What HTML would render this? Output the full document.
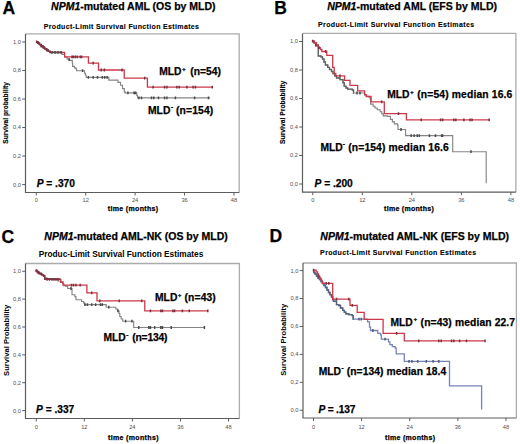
<!DOCTYPE html>
<html><head><meta charset="utf-8">
<style>
html,body{margin:0;padding:0;background:#fff;}
body{width:520px;height:444px;overflow:hidden;}
svg{display:block;font-family:"Liberation Sans",sans-serif;}
.tl{font-size:5.7px;fill:#505050;}
.tx{fill:#000;stroke:#000;stroke-width:0.25px;}
</style></head><body>
<svg width="520" height="444" viewBox="0 0 520 444">
<rect width="520" height="444" fill="#fff"/>
<path d="M25.5 33.9H239.2V192.5" stroke="#ababab" stroke-width="1.3" fill="none"/>
<path d="M25.5 33.9V192.5H239.2" stroke="#5c5c5c" stroke-width="1.2" fill="none"/>
<text x="20.90" y="186.50" class="tl" text-anchor="end">0,0</text>
<text x="20.90" y="157.98" class="tl" text-anchor="end">0,2</text>
<text x="20.90" y="129.46" class="tl" text-anchor="end">0,4</text>
<text x="20.90" y="100.94" class="tl" text-anchor="end">0,6</text>
<text x="20.90" y="72.42" class="tl" text-anchor="end">0,8</text>
<text x="20.90" y="43.90" class="tl" text-anchor="end">1,0</text>
<text x="36.25" y="202.20" class="tl" text-anchor="middle">0</text>
<text x="85.69" y="202.20" class="tl" text-anchor="middle">12</text>
<text x="135.13" y="202.20" class="tl" text-anchor="middle">24</text>
<text x="184.57" y="202.20" class="tl" text-anchor="middle">36</text>
<text x="234.01" y="202.20" class="tl" text-anchor="middle">48</text>
<path d="M22.20 184.60H25.5M22.20 156.08H25.5M22.20 127.56H25.5M22.20 99.04H25.5M22.20 70.52H25.5M22.20 42.00H25.5M36.25 192.5V195.5M85.69 192.5V195.5M135.13 192.5V195.5M184.57 192.5V195.5M234.01 192.5V195.5" stroke="#5c5c5c" stroke-width="1" fill="none"/>
<path d="M302.5 33.4H515.9V192.2" stroke="#ababab" stroke-width="1.3" fill="none"/>
<path d="M302.5 33.4V192.2H515.9" stroke="#5c5c5c" stroke-width="1.2" fill="none"/>
<text x="297.90" y="185.90" class="tl" text-anchor="end">0,0</text>
<text x="297.90" y="157.40" class="tl" text-anchor="end">0,2</text>
<text x="297.90" y="128.90" class="tl" text-anchor="end">0,4</text>
<text x="297.90" y="100.40" class="tl" text-anchor="end">0,6</text>
<text x="297.90" y="71.90" class="tl" text-anchor="end">0,8</text>
<text x="297.90" y="43.40" class="tl" text-anchor="end">1,0</text>
<text x="312.75" y="201.60" class="tl" text-anchor="middle">0</text>
<text x="362.29" y="201.60" class="tl" text-anchor="middle">12</text>
<text x="411.82" y="201.60" class="tl" text-anchor="middle">24</text>
<text x="461.36" y="201.60" class="tl" text-anchor="middle">36</text>
<text x="510.89" y="201.60" class="tl" text-anchor="middle">48</text>
<path d="M299.20 184.00H302.5M299.20 155.50H302.5M299.20 127.00H302.5M299.20 98.50H302.5M299.20 70.00H302.5M299.20 41.50H302.5M312.75 192.2V195.2M362.29 192.2V195.2M411.82 192.2V195.2M461.36 192.2V195.2M510.89 192.2V195.2" stroke="#5c5c5c" stroke-width="1" fill="none"/>
<path d="M25.5 263.5H239.4V418.5" stroke="#ababab" stroke-width="1.3" fill="none"/>
<path d="M25.5 263.5V418.5H239.4" stroke="#5c5c5c" stroke-width="1.2" fill="none"/>
<text x="20.90" y="412.50" class="tl" text-anchor="end">0,0</text>
<text x="20.90" y="384.63" class="tl" text-anchor="end">0,2</text>
<text x="20.90" y="356.76" class="tl" text-anchor="end">0,4</text>
<text x="20.90" y="328.89" class="tl" text-anchor="end">0,6</text>
<text x="20.90" y="301.02" class="tl" text-anchor="end">0,8</text>
<text x="20.90" y="273.15" class="tl" text-anchor="end">1,0</text>
<text x="36.25" y="429.40" class="tl" text-anchor="middle">0</text>
<text x="84.31" y="429.40" class="tl" text-anchor="middle">12</text>
<text x="132.37" y="429.40" class="tl" text-anchor="middle">24</text>
<text x="180.43" y="429.40" class="tl" text-anchor="middle">36</text>
<text x="228.49" y="429.40" class="tl" text-anchor="middle">48</text>
<path d="M22.20 410.60H25.5M22.20 382.73H25.5M22.20 354.86H25.5M22.20 326.99H25.5M22.20 299.12H25.5M22.20 271.25H25.5M36.25 418.5V421.5M84.31 418.5V421.5M132.37 418.5V421.5M180.43 418.5V421.5M228.49 418.5V421.5" stroke="#5c5c5c" stroke-width="1" fill="none"/>
<path d="M303.0 263.0H516.4V418.0" stroke="#ababab" stroke-width="1.3" fill="none"/>
<path d="M303.0 263.0V418.0H516.4" stroke="#5c5c5c" stroke-width="1.2" fill="none"/>
<text x="298.40" y="412.15" class="tl" text-anchor="end">0,0</text>
<text x="298.40" y="384.22" class="tl" text-anchor="end">0,2</text>
<text x="298.40" y="356.29" class="tl" text-anchor="end">0,4</text>
<text x="298.40" y="328.36" class="tl" text-anchor="end">0,6</text>
<text x="298.40" y="300.43" class="tl" text-anchor="end">0,8</text>
<text x="298.40" y="272.50" class="tl" text-anchor="end">1,0</text>
<text x="313.50" y="429.00" class="tl" text-anchor="middle">0</text>
<text x="361.62" y="429.00" class="tl" text-anchor="middle">12</text>
<text x="409.74" y="429.00" class="tl" text-anchor="middle">24</text>
<text x="457.86" y="429.00" class="tl" text-anchor="middle">36</text>
<text x="505.98" y="429.00" class="tl" text-anchor="middle">48</text>
<path d="M299.70 410.25H303.0M299.70 382.32H303.0M299.70 354.39H303.0M299.70 326.46H303.0M299.70 298.53H303.0M299.70 270.60H303.0M313.50 418.0V421.0M361.62 418.0V421.0M409.74 418.0V421.0M457.86 418.0V421.0M505.98 418.0V421.0" stroke="#5c5c5c" stroke-width="1" fill="none"/>
<path d="M36.20 41.80H37.80V43.20H39.50V44.60H41.20V46.00H43.00V47.50H44.70V48.80H46.50V50.00H48.30V51.30H50.00V52.40H62.00V54.30H64.60V57.00H67.00V58.80H69.50V60.30H72.30V63.00H72.60V66.30H74.50V67.80H76.00V69.00H76.60V70.70H84.50V73.20H85.40V75.00H86.20V77.40H108.80V80.10H118.00V82.30H120.50V85.20H122.50V88.60H124.30V91.60H125.00V92.80H136.80V95.50H137.50V97.90H210.00" stroke="#858585" stroke-width="1.15" fill="none"/>
<path d="M312.20 41.10H313.80V42.80H315.70V44.90H318.00V46.00H318.30V56.00H321.00V56.80H322.50V59.00H324.00V62.00H325.40V65.00H327.70V67.30H329.50V69.50H331.50V71.50H333.00V73.70H334.60V75.80H336.50V78.00H340.00V79.60H343.00V82.70H344.20V86.20H346.00V88.00H347.70V89.20H352.30V90.00H353.50V93.00H364.60V95.00H366.50V96.20H368.50V96.80H370.10V98.80H370.60V104.10H373.10V106.20H375.00V108.00H377.20V109.70H380.20V111.70H381.80V113.80H383.30V115.80H387.30V116.30H390.40V119.30H392.40V121.90H394.40V123.90H397.50V125.40H398.00V129.50H405.60V135.60H452.70V151.70H486.20V183.30H486.20" stroke="#858585" stroke-width="1.15" fill="none"/>
<path d="M35.80 270.60H37.40V272.50H39.30V273.70H41.60V274.80H43.50V276.00H44.70V277.90H47.00V278.80H52.00V279.50H58.20V281.00H60.50V282.30H62.80V283.70H63.80V285.60H65.80V286.40H67.70V288.50H72.00V294.70H74.90V296.60H75.90V299.70H81.60V301.50H83.60V302.90H84.50V304.60H106.20V307.20H115.80V309.00H117.50V310.80H119.00V313.50H119.80V316.50H121.20V319.00H122.70V321.20H133.70V327.50H204.40" stroke="#858585" stroke-width="1.15" fill="none"/>
<path d="M313.50 270.20H313.80V272.50H315.00V274.00H316.50V276.00H318.00V278.00H319.50V279.50H321.00V281.50H322.50V283.50H324.00V285.50H325.50V287.50H327.00V290.00H328.50V292.50H330.00V294.70H331.50V297.00H332.70V299.60H333.50V301.20H336.50V304.60H338.80V305.50H340.50V308.00H342.70V310.40H344.30V312.20H345.80V313.80H348.80V314.60H352.20V315.60H353.20V319.20H367.60V321.80H369.50V327.10H370.50V330.50H377.70V333.40H380.60V334.80H381.30V339.20H388.50V341.80H389.90V344.70H392.30V346.60H395.20V348.10H396.20V353.80H404.30V361.30H449.50V385.90H481.60V409.60H481.60" stroke="#7585b8" stroke-width="1.3" fill="none"/>
<path d="M313.50 270.20H313.80V272.50H315.00V274.00H316.50V276.00H318.00V278.00H319.50V279.50H321.00V281.50H322.50V283.50H324.00V285.50H325.50V287.50H327.00V290.00H328.50V292.50H330.00V294.70H331.50V297.00H332.70V299.60H333.50V301.20H336.50V304.60H338.80V305.50H340.50V308.00H342.70V310.40H344.30V312.20H345.80V313.80H348.80V314.60H352.20V315.60H353.20V319.20H353.50" stroke="#56627e" stroke-width="1.4" fill="none"/>
<path d="M312.20 41.10H313.80V42.80H315.70V44.90H318.00V46.00H318.30V56.00H321.00V56.80H322.50V59.00H324.00V62.00H325.40V65.00H327.70V67.30H329.50V69.50H331.50V71.50H333.00V73.70H334.60V75.80H336.50V78.00H340.00V79.60H343.00V82.70H344.20V86.20H346.00V88.00H347.70V89.20H352.30V90.00H353.50V93.00H354.00" stroke="#5e6565" stroke-width="1.3" fill="none"/>
<path d="M36.20 41.80H37.80V43.20H39.50V44.60H41.20V46.00H43.00V47.50H44.70V48.80H46.50V50.00H48.30V51.30H50.00V52.40H64.60V56.90H88.40V63.20H98.50V70.00H124.20V78.20H147.40V87.20H212.50" stroke="#cc3848" stroke-width="1.3" fill="none"/>
<path d="M312.20 41.10H314.50V43.00H316.50V45.30H318.40V47.60H320.30V49.50H321.80V51.50H326.80V55.30H332.70V67.30H334.20V73.50H335.80V75.80H344.60V80.40H350.00V85.40H357.70V90.80H364.60V94.60H366.20V96.50H371.10V101.90H384.30V113.60H406.40V119.90H489.20" stroke="#cc3848" stroke-width="1.3" fill="none"/>
<path d="M35.80 270.60H37.40V272.50H39.30V273.70H41.60V274.80H43.50V276.00H44.70V279.30H60.80V282.00H63.00V285.10H86.90V292.80H97.00V300.80H144.80V310.90H207.60" stroke="#cc3848" stroke-width="1.3" fill="none"/>
<path d="M313.50 270.20H316.20V271.80H317.50V274.00H318.50V276.00H319.70V278.00H320.80V279.50H321.60V281.20H322.30V283.30H332.70V299.20H350.00V305.40H357.20V312.30H364.20V319.40H383.10V333.30H404.30V340.90H485.00" stroke="#cc3848" stroke-width="1.3" fill="none"/>
<path d="M36.20 41.80H37.80V43.20H39.50V44.60H41.20V46.00H43.00V47.50H44.70V48.80H46.50V50.00H48.30V51.30H50.00V52.40H62.00" stroke="#7a3a4a" stroke-width="1.5" fill="none"/>
<path d="M35.80 270.60H37.40V272.50H39.30V273.70H41.60V274.80H43.50V276.00H44.70V279.00H60.50" stroke="#7a3a4a" stroke-width="1.5" fill="none"/>
<path d="M69.10 58.20V61.00M82.60 69.30V72.10M88.40 76.00V78.80M93.20 76.00V78.80M97.50 76.00V78.80M102.30 76.00V78.80M104.70 76.00V78.80M107.10 76.00V78.80M127.90 91.40V94.20M134.10 91.40V94.20M135.60 91.40V94.20M138.90 96.50V99.30M141.50 96.50V99.30M151.50 96.50V99.30M153.80 96.50V99.30M158.50 96.50V99.30M164.60 96.50V99.30M166.90 96.50V99.30M175.40 96.50V99.30M194.60 96.50V99.30M208.50 96.50V99.30M52.00 51.00V53.80M55.00 51.00V53.80M58.00 51.00V53.80M61.00 51.00V53.80" stroke="#4a4a4a" stroke-width="1.5" fill="none"/>
<path d="M36.60 40.40V43.20M38.50 41.80V44.60M41.20 44.60V47.40M44.00 46.10V48.90M47.00 48.60V51.40M72.00 55.50V58.30M73.50 55.50V58.30M75.40 55.50V58.30M77.30 55.50V58.30M80.20 55.50V58.30M81.60 55.50V58.30M93.20 61.80V64.60M101.30 68.60V71.40M104.40 68.60V71.40M122.00 68.60V71.40M144.70 76.80V79.60M153.10 85.80V88.60M164.60 85.80V88.60M166.90 85.80V88.60M176.90 85.80V88.60M179.20 85.80V88.60M186.90 85.80V88.60M193.10 85.80V88.60M195.40 85.80V88.60M212.30 85.80V88.60" stroke="#7a3040" stroke-width="1.5" fill="none"/>
<path d="M357.00 91.60V94.40M360.00 91.60V94.40M411.20 134.20V137.00M414.20 134.20V137.00M417.20 134.20V137.00M419.30 134.20V137.00M429.40 134.20V137.00M435.50 134.20V137.00M441.60 134.20V137.00M442.60 134.20V137.00M471.00 150.30V153.10M401.00 128.10V130.90" stroke="#4a4a4a" stroke-width="1.5" fill="none"/>
<path d="M312.60 39.70V42.50M316.00 43.90V46.70M319.00 46.20V49.00M325.70 50.10V52.90M340.00 74.40V77.20M381.70 100.50V103.30M398.50 112.20V115.00M421.30 118.50V121.30M440.60 118.50V121.30M442.60 118.50V121.30M453.80 118.50V121.30M455.80 118.50V121.30M463.90 118.50V121.30M470.00 118.50V121.30M472.00 118.50V121.30M489.20 118.50V121.30" stroke="#7a3040" stroke-width="1.5" fill="none"/>
<path d="M71.00 287.10V289.90M85.00 303.20V306.00M87.40 303.20V306.00M91.70 303.20V306.00M95.60 303.20V306.00M100.40 303.20V306.00M102.30 303.20V306.00M108.80 305.80V308.60M118.00 309.40V312.20M125.60 319.80V322.60M131.90 319.80V322.60M138.80 326.10V328.90M148.70 326.10V328.90M150.40 326.10V328.90M154.70 326.10V328.90M160.80 326.10V328.90M162.50 326.10V328.90M171.20 326.10V328.90M204.40 326.10V328.90" stroke="#4a4a4a" stroke-width="1.5" fill="none"/>
<path d="M36.20 269.20V272.00M38.50 271.10V273.90M41.00 272.30V275.10M47.00 277.90V280.70M49.50 277.90V280.70M52.00 277.90V280.70M54.00 277.90V280.70M56.00 277.90V280.70M58.00 277.90V280.70M71.50 283.70V286.50M73.50 283.70V286.50M75.90 283.70V286.50M80.20 283.70V286.50M91.70 291.40V294.20M99.80 299.40V302.20M119.20 299.40V302.20M141.70 299.40V302.20M150.40 309.50V312.30M160.80 309.50V312.30M162.50 309.50V312.30M172.90 309.50V312.30M174.60 309.50V312.30M182.40 309.50V312.30M189.30 309.50V312.30M207.80 309.50V312.30" stroke="#7a3040" stroke-width="1.5" fill="none"/>
<path d="M359.00 317.80V320.60M361.30 317.80V320.60M372.90 329.10V331.90M409.00 359.90V362.70M411.90 359.90V362.70M417.70 359.90V362.70M426.30 359.90V362.70M433.10 359.90V362.70M438.80 359.90V362.70M385.00 337.80V340.60" stroke="#505a78" stroke-width="1.5" fill="none"/>
<path d="M313.50 268.80V271.60M318.50 274.60V277.40M326.20 281.90V284.70M328.80 281.90V284.70M336.50 297.80V300.60M348.80 297.80V300.60M352.30 304.00V306.80M396.60 331.90V334.70M418.80 339.50V342.30M438.80 339.50V342.30M441.20 339.50V342.30M451.50 339.50V342.30M453.80 339.50V342.30M459.60 339.50V342.30M466.50 339.50V342.30M485.00 339.50V342.30" stroke="#7a3040" stroke-width="1.5" fill="none"/>
<text x="2.40" y="13.90" font-size="17.5" font-weight="bold" class="tx">A</text>
<text x="274.27" y="13.60" font-size="17.5" font-weight="bold" class="tx">B</text>
<text x="1.55" y="242.80" font-size="17.5" font-weight="bold" class="tx">C</text>
<text x="269.48" y="242.10" font-size="17.5" font-weight="bold" class="tx">D</text>
<text x="51.05" y="10.00" font-size="10.5" font-weight="bold" class="tx"><tspan font-style="italic">NPM1</tspan>-mutated AML (OS by MLD)</text>
<text x="327.25" y="9.80" font-size="10.5" font-weight="bold" class="tx"><tspan font-style="italic">NPM1</tspan>-mutated AML (EFS by MLD)</text>
<text x="44.35" y="239.70" font-size="10.5" font-weight="bold" class="tx"><tspan font-style="italic">NPM1</tspan>-mutated AML-NK (OS by MLD)</text>
<text x="320.35" y="240.30" font-size="10.5" font-weight="bold" class="tx"><tspan font-style="italic">NPM1</tspan>-mutated AML-NK (EFS by MLD)</text>
<text x="43.70" y="29.20" font-size="7.0" font-weight="bold" class="tx" textLength="155.33" lengthAdjust="spacing" style="stroke-width:0.1px">Product-Limit Survival Function Estimates</text>
<text x="318.00" y="26.80" font-size="7.0" font-weight="bold" class="tx" textLength="156.08" lengthAdjust="spacing" style="stroke-width:0.1px">Product-Limit Survival Function Estimates</text>
<text x="38.70" y="257.10" font-size="8.3" font-weight="bold" class="tx" style="stroke-width:0.0px">Produc-Limit Survival Function Estimates</text>
<text x="320.10" y="254.80" font-size="7.0" font-weight="bold" class="tx" textLength="156.03" lengthAdjust="spacing" style="stroke-width:0.1px">Product-Limit Survival Function Estimates</text>
<text x="107.78" y="211.40" font-size="7.0" font-weight="bold" class="tx" textLength="50.33" lengthAdjust="spacing">time (months)</text>
<text x="384.07" y="210.70" font-size="7.0" font-weight="bold" class="tx" textLength="49.73" lengthAdjust="spacing">time (months)</text>
<text x="107.97" y="440.30" font-size="7.0" font-weight="bold" class="tx" textLength="50.53" lengthAdjust="spacing">time (months)</text>
<text x="384.98" y="439.70" font-size="7.0" font-weight="bold" class="tx" textLength="50.03" lengthAdjust="spacing">time (months)</text>
<text x="36.65" y="187.10" font-size="10.2" font-weight="bold" class="tx"><tspan font-style="italic">P</tspan> = .370</text>
<text x="314.55" y="186.70" font-size="10.2" font-weight="bold" class="tx"><tspan font-style="italic">P</tspan> = .200</text>
<text x="36.05" y="412.70" font-size="10.2" font-weight="bold" class="tx"><tspan font-style="italic">P</tspan> = .337</text>
<text x="318.55" y="412.70" font-size="10.2" font-weight="bold" class="tx" textLength="36.75" lengthAdjust="spacing"><tspan font-style="italic">P</tspan> = .137</text>
<text x="159.25" y="74.80" font-size="10.3" font-weight="bold" class="tx">MLD</text>
<text x="190.30" y="74.80" font-size="10.3" font-weight="bold" class="tx">(n=54)</text>
<text x="182.25" y="70.70" font-size="5.6" font-weight="bold" class="tx" style="stroke-width:0.3px">+</text>
<text x="148.05" y="113.50" font-size="10.3" font-weight="bold" class="tx">MLD</text>
<text x="176.00" y="113.50" font-size="10.3" font-weight="bold" class="tx" textLength="37.27" lengthAdjust="spacing">(n=154)</text>
<text x="170.95" y="109.10" font-size="6.5" font-weight="bold" class="tx">-</text>
<text x="387.15" y="98.30" font-size="10.3" font-weight="bold" class="tx">MLD</text>
<text x="417.20" y="98.30" font-size="10.3" font-weight="bold" class="tx" textLength="95.14" lengthAdjust="spacing">(n=54) median 16.6</text>
<text x="410.15" y="94.20" font-size="5.6" font-weight="bold" class="tx" style="stroke-width:0.3px">+</text>
<text x="320.45" y="150.70" font-size="10.3" font-weight="bold" class="tx">MLD</text>
<text x="348.30" y="150.70" font-size="10.3" font-weight="bold" class="tx" textLength="100.41" lengthAdjust="spacing">(n=154) median 16.6</text>
<text x="342.75" y="146.30" font-size="6.5" font-weight="bold" class="tx">-</text>
<text x="155.05" y="300.90" font-size="10.3" font-weight="bold" class="tx">MLD</text>
<text x="184.50" y="300.90" font-size="10.3" font-weight="bold" class="tx" textLength="31.30" lengthAdjust="spacing">(n=43)</text>
<text x="178.05" y="296.80" font-size="5.6" font-weight="bold" class="tx" style="stroke-width:0.3px">+</text>
<text x="103.45" y="341.10" font-size="10.3" font-weight="bold" class="tx">MLD</text>
<text x="132.20" y="341.10" font-size="10.3" font-weight="bold" class="tx" textLength="35.27" lengthAdjust="spacing">(n=134)</text>
<text x="126.25" y="336.70" font-size="6.5" font-weight="bold" class="tx">-</text>
<text x="390.45" y="325.50" font-size="10.3" font-weight="bold" class="tx">MLD</text>
<text x="420.60" y="325.50" font-size="10.3" font-weight="bold" class="tx" textLength="94.44" lengthAdjust="spacing">(n=43) median 22.7</text>
<text x="413.75" y="321.40" font-size="5.6" font-weight="bold" class="tx" style="stroke-width:0.3px">+</text>
<text x="318.75" y="374.50" font-size="10.3" font-weight="bold" class="tx">MLD</text>
<text x="346.70" y="374.50" font-size="10.3" font-weight="bold" class="tx" textLength="99.53" lengthAdjust="spacing">(n=134) median 18.4</text>
<text x="341.55" y="370.10" font-size="6.5" font-weight="bold" class="tx">-</text>
<text transform="translate(8.0 112.9) rotate(-90)" x="0" y="0" text-anchor="middle" font-size="6.6" font-weight="bold" class="tx" style="stroke-width:0.15px" textLength="61.80" lengthAdjust="spacing">Survival probability</text>
<text transform="translate(284.8 112.3) rotate(-90)" x="0" y="0" text-anchor="middle" font-size="6.75" font-weight="bold" class="tx" style="stroke-width:0.15px" textLength="63.40" lengthAdjust="spacing">Survival Probability</text>
<text transform="translate(8.6 340.3) rotate(-90)" x="0" y="0" text-anchor="middle" font-size="7.6" font-weight="bold" class="tx" style="stroke-width:0.0px" textLength="71.20" lengthAdjust="spacing">Survival Probability</text>
<text transform="translate(285.7 339.8) rotate(-90)" x="0" y="0" text-anchor="middle" font-size="7.6" font-weight="bold" class="tx" style="stroke-width:0.0px" textLength="72.00" lengthAdjust="spacing">Survival Probability</text>
</svg>
</body></html>
